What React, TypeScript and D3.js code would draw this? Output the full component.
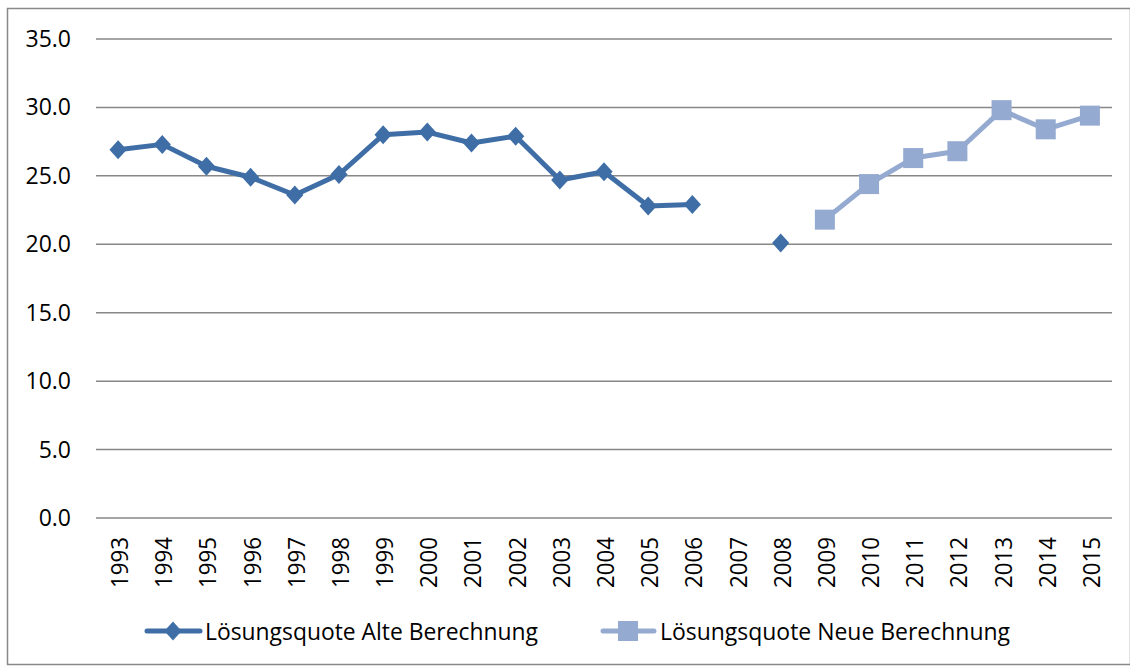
import { useEffect, useRef } from "react";
import * as d3 from "d3";

const years = ["1993","1994","1995","1996","1997","1998","1999","2000","2001","2002","2003","2004","2005","2006","2007","2008","2009","2010","2011","2012","2013","2014","2015"];
const alteValues: (number | null)[] = [26.9,27.3,25.7,24.9,23.6,25.1,28.0,28.2,27.4,27.9,24.7,25.3,22.8,22.9,null,20.1,null,null,null,null,null,null,null];
const neueValues: (number | null)[] = [null,null,null,null,null,null,null,null,null,null,null,null,null,null,null,null,21.8,24.4,26.3,26.8,29.8,28.4,29.4];
const yTicks = [0, 5, 10, 15, 20, 25, 30, 35];
const seriesNames = ["Lösungsquote Alte Berechnung", "Lösungsquote Neue Berechnung"];

const W = 1130;
const H = 668;
const FONT = "'Open Sans', sans-serif";
const ALTE = "#3F6EA6";
const NEUE = "#94AAD0";

const App = () => {
  const svgRef = useRef<SVGSVGElement>(null);

  useEffect(() => {
    const svg = d3.select(svgRef.current);
    svg.selectAll("*").remove();

    // frame
    svg.append("rect")
      .attr("x", 7.5).attr("y", 8.5)
      .attr("width", W - 7).attr("height", H - 12)
      .attr("fill", "#fff").attr("stroke", "#898989").attr("stroke-width", 1.5);

    const x = d3.scaleBand().domain(years).range([96, 1112]);
    const y = d3.scaleLinear().domain([0, 35]).range([518, 39]);
    const cx = (d: string) => (x(d) ?? 0) + x.bandwidth() / 2;

    // gridlines
    svg.append("g")
      .selectAll("line")
      .data(yTicks)
      .join("line")
      .attr("x1", 96).attr("x2", 1112)
      .attr("y1", (d) => y(d)).attr("y2", (d) => y(d))
      .attr("stroke", "#878787").attr("stroke-width", 1.5);

    // y labels
    svg.append("g")
      .selectAll("text")
      .data(yTicks)
      .join("text")
      .attr("x", 71).attr("y", (d) => y(d) - 1)
      .attr("text-anchor", "end")
      .attr("dominant-baseline", "central")
      .attr("font-family", FONT).attr("font-size", 23)
      .attr("fill", "#000")
      .text((d) => d.toFixed(1));

    // x labels
    svg.append("g")
      .selectAll("text")
      .data(years)
      .join("text")
      .attr("transform", (d) => `translate(${cx(d) + 1},537) rotate(-90)`)
      .attr("text-anchor", "end")
      .attr("dominant-baseline", "central")
      .attr("font-family", FONT).attr("font-size", 23)
      .attr("textLength", 51).attr("lengthAdjust", "spacingAndGlyphs")
      .attr("fill", "#000")
      .text((d) => d);

    const line = d3.line<number | null>()
      .defined((d) => d != null)
      .x((d, i) => cx(years[i]))
      .y((d) => y(d as number));

    // alte series
    svg.append("path")
      .attr("d", line(alteValues))
      .attr("fill", "none").attr("stroke", ALTE)
      .attr("stroke-width", 5).attr("stroke-linejoin", "round").attr("stroke-linecap", "round");
    const diamond = d3.symbol().type(d3.symbolDiamond2).size(190);
    svg.append("g")
      .selectAll("path")
      .data(alteValues.map((v, i) => ({ v, yr: years[i] })).filter((d) => d.v != null))
      .join("path")
      .attr("d", diamond)
      .attr("transform", (d) => `translate(${cx(d.yr)},${y(d.v as number)}) scale(1,1.1)`)
      .attr("fill", ALTE);

    // neue series
    svg.append("path")
      .attr("d", line(neueValues))
      .attr("fill", "none").attr("stroke", NEUE)
      .attr("stroke-width", 5).attr("stroke-linejoin", "round").attr("stroke-linecap", "round");
    svg.append("g")
      .selectAll("rect")
      .data(neueValues.map((v, i) => ({ v, yr: years[i] })).filter((d) => d.v != null))
      .join("rect")
      .attr("x", (d) => cx(d.yr) - 10).attr("y", (d) => y(d.v as number) - 10)
      .attr("width", 20).attr("height", 20)
      .attr("fill", NEUE);

    // legend
    const leg = svg.append("g").attr("font-family", FONT).attr("font-size", 23);
    const ly = 631;
    leg.append("line").attr("x1", 147).attr("x2", 200).attr("y1", ly).attr("y2", ly)
      .attr("stroke", ALTE).attr("stroke-width", 5).attr("stroke-linecap", "round");
    leg.append("path").attr("d", diamond).attr("transform", `translate(173,${ly}) scale(1,1.1)`).attr("fill", ALTE);
    leg.append("text").attr("x", 205).attr("y", ly).attr("dominant-baseline", "central")
      .attr("textLength", 333).attr("lengthAdjust", "spacingAndGlyphs").text(seriesNames[0]);

    leg.append("line").attr("x1", 603).attr("x2", 654).attr("y1", ly).attr("y2", ly)
      .attr("stroke", NEUE).attr("stroke-width", 5).attr("stroke-linecap", "round");
    leg.append("rect").attr("x", 618).attr("y", ly - 10).attr("width", 20).attr("height", 20).attr("fill", NEUE);
    leg.append("text").attr("x", 660).attr("y", ly).attr("dominant-baseline", "central")
      .attr("textLength", 350).attr("lengthAdjust", "spacingAndGlyphs").text(seriesNames[1]);
  }, []);

  return (
    <div style={{ position: "absolute", left: 0, top: 0 }}>
      <svg ref={svgRef} width={W} height={H} style={{ display: "block" }}></svg>
    </div>
  );
};

export default App;
